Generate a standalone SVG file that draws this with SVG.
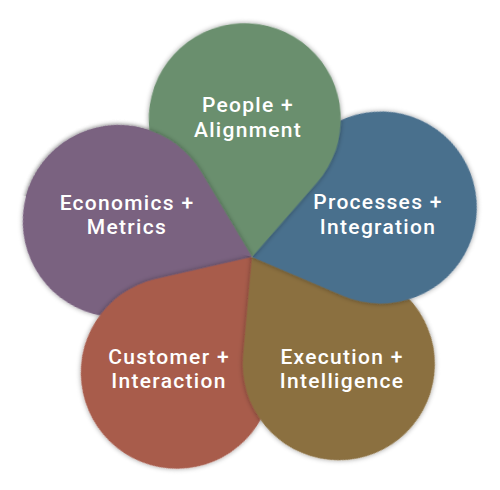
<svg xmlns="http://www.w3.org/2000/svg" xmlns:xlink="http://www.w3.org/1999/xlink" width="500" height="490" viewBox="0 0 500 490">
  <defs>
    <style>
      .lbl { fill: #ffffff; font-family: Roboto, "Liberation Sans", sans-serif; font-weight: 500; font-size: 21px; letter-spacing: 1.3px; text-anchor: middle; }
    </style>
    <path id="drop" d="M0,0 L71.18,-68.94 A96,96 0 1 1 71.18,68.94 Z"/>
    <filter id="sh" x="-20%" y="-20%" width="140%" height="140%">
      <feDropShadow dx="0" dy="0" stdDeviation="2.5" flood-color="#000000" flood-opacity="0.4"/>
    </filter>
    <clipPath id="halfClip" clipPathUnits="userSpaceOnUse">
      <rect x="-30" y="0" width="280" height="130"/>
    </clipPath>
  </defs>
  <rect width="500" height="490" fill="#ffffff"/>

  <g id="economics-base">
    <use xlink:href="#drop" href="#drop" transform="translate(252 257) rotate(195)" fill="#7a6280" filter="url(#sh)"/>
  </g>

  <g id="customer">
    <use xlink:href="#drop" href="#drop" transform="translate(252 257) rotate(123)" fill="#a85b4b" filter="url(#sh)"/>
    <text class="lbl" x="169" y="364">Customer +</text>
    <text class="lbl" x="169" y="388">Interaction</text>
  </g>

  <g id="execution">
    <use xlink:href="#drop" href="#drop" transform="translate(252 257) rotate(51)" fill="#8b7040" filter="url(#sh)"/>
    <text class="lbl" x="342" y="364">Execution +</text>
    <text class="lbl" x="342" y="388">Intelligence</text>
  </g>

  <g id="processes">
    <use xlink:href="#drop" href="#drop" transform="translate(252 257) rotate(-21)" fill="#4a6f8d" filter="url(#sh)"/>
    <text class="lbl" x="378" y="209">Processes +</text>
    <text class="lbl" x="378" y="234">Integration</text>
  </g>

  <g id="people">
    <use xlink:href="#drop" href="#drop" transform="translate(252 257) rotate(-93)" fill="#6a8f6e" filter="url(#sh)"/>
    <text class="lbl" x="248" y="112">People +</text>
    <text class="lbl" x="248" y="137">Alignment</text>
  </g>

  <g id="economics">
    <g transform="translate(252 257) rotate(195)" clip-path="url(#halfClip)">
      <use xlink:href="#drop" href="#drop" fill="#7a6280" filter="url(#sh)"/>
    </g>
    <text class="lbl" x="127" y="210">Economics +</text>
    <text class="lbl" x="127" y="234">Metrics</text>
  </g>
</svg>
